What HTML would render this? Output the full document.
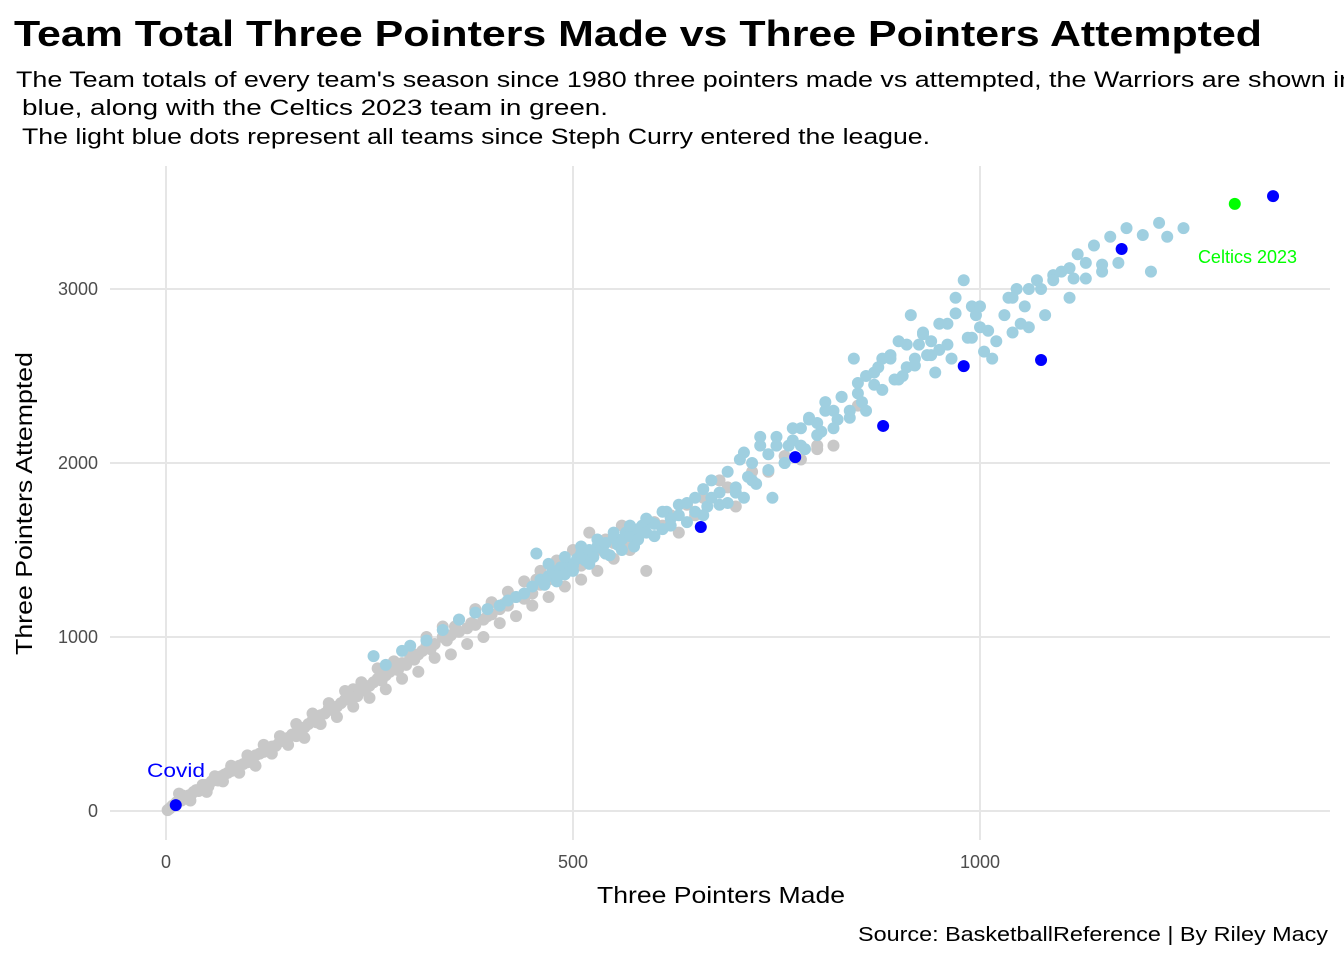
<!DOCTYPE html>
<html><head><meta charset="utf-8"><style>
body{margin:0;background:#fff;width:1344px;height:960px;overflow:hidden;font-family:"Liberation Sans",Arial,sans-serif}
svg{position:absolute;left:0;top:0}
</style></head><body>
<svg id="c" width="1344" height="960">
<text x="14" y="46" font-size="36" font-weight="bold" fill="#000" textLength="1248" lengthAdjust="spacingAndGlyphs">Team Total Three Pointers Made vs Three Pointers Attempted</text>
<g font-size="22" fill="#000">
<text x="16" y="87" textLength="1338" lengthAdjust="spacingAndGlyphs">The Team totals of every team's season since 1980 three pointers made vs attempted, the Warriors are shown in</text>
<text x="22" y="115" textLength="586" lengthAdjust="spacingAndGlyphs">blue, along with the Celtics 2023 team in green.</text>
<text x="22" y="144" textLength="908" lengthAdjust="spacingAndGlyphs">The light blue dots represent all teams since Steph Curry entered the league.</text>
</g>
<g id="grid"></g><g id="pts"></g><g id="ticks"></g>
<text x="597" y="903" font-size="23" textLength="248" lengthAdjust="spacingAndGlyphs">Three Pointers Made</text>
<text transform="translate(32,655) rotate(-90)" font-size="23" textLength="303" lengthAdjust="spacingAndGlyphs">Three Pointers Attempted</text>
<text x="858" y="941" font-size="20" textLength="470" lengthAdjust="spacingAndGlyphs">Source: BasketballReference | By Riley Macy</text>
<text x="1297" y="263" font-size="18" fill="#00ff00" text-anchor="end">Celtics 2023</text>
<text x="147" y="777" font-size="19" fill="#0000ff" textLength="58" lengthAdjust="spacingAndGlyphs">Covid</text>
</svg>
<script>
const xTicks=[0,500,1000];
const yTicks=[0,1000,2000,3000];
const grayX=[2,4,6,8,10,13,16,19,22,25,28,31,34,37,40,44,48,52,56,60,64,68,72,76,80,85,90,95,100,105,110,115,120,125,130,135,140,145,150,155,160,165,170,175,180,185,190,195,200,205,210,215,220,225,230,235,240,245,250,255,260,265,270,275,280,285,290,295,300,305,310,315,320,325,330,340,345,350,355,360,370,375,380,390,395,400,410,415,420,430,440,450,455,460,470,480,490,500,510,520,530,540,550,560,570,580,600,620,640,660,690,720,760,800,850,
20,30,45,50,60,70,80,90,100,110,120,130,140,150,160,170,180,190,200,210,220,230,240,250,260,270,280,290,300,310,320,330,340,350,360,370,380,390,400,410,420,430,440,450,460,470,480,490,500,510,520,530,540,550,560,570,590,610,630,650,680,700,740,780,800,820];
const grayY=[5,12,20,30,35,50,100,60,75,80,90,95,110,120,115,130,150,140,170,180,175,200,210,220,230,245,260,270,280,290,320,330,340,350,370,375,400,410,420,440,430,470,480,500,520,510,550,560,590,580,600,620,640,650,700,660,690,700,720,740,760,750,780,800,820,810,850,840,880,870,900,920,950,930,960,1000,980,1010,1060,1030,1050,1080,1070,1100,1120,1130,1160,1190,1180,1230,1220,1250,1330,1300,1330,1350,1380,1390,1410,1460,1500,1480,1540,1530,1560,1600,1660,1700,1760,1800,1860,1950,2040,2100,2330,
90,60,150,110,200,170,260,220,320,260,380,330,430,380,500,420,560,500,620,540,690,600,740,650,820,700,860,760,920,800,1000,880,1060,900,1100,960,1160,1000,1200,1080,1260,1120,1320,1180,1380,1230,1440,1290,1500,1330,1600,1380,1560,1450,1640,1500,1380,1640,1600,1700,1900,1750,1950,2020,2080,2100];
const blueX=[255,270,290,300,320,340,360,380,395,410,420,430,440,450,455,460,465,470,475,480,485,490,495,500,505,510,515,520,525,530,535,540,545,550,555,560,565,570,575,580,585,590,595,600,610,615,620,630,640,650,660,665,670,680,690,700,705,710,715,720,725,730,740,745,750,760,765,770,780,785,790,800,805,810,820,825,830,840,845,850,855,860,870,875,880,890,895,900,905,910,915,920,925,930,935,940,945,950,960,965,970,980,985,990,995,1000,1005,1015,1020,1030,1035,1040,1045,1050,1055,1060,1070,1075,1080,1090,1100,1110,1115,1120,1130,1140,1150,1160,1170,1180,1200,1210,1220,1230,1250,
470,480,490,500,510,520,530,540,550,560,570,580,590,600,610,620,630,640,650,660,670,680,690,700,710,720,730,740,750,760,770,780,790,800,810,820,830,840,850,860,870,880,890,900,910,920,930,940,950,960,970,990,1000,1010,1040,1060,1090,1110,1130,1150];
const blueY=[890,840,920,950,980,1040,1100,1140,1160,1180,1210,1230,1250,1290,1480,1330,1300,1350,1380,1320,1400,1360,1420,1410,1450,1480,1440,1500,1460,1520,1510,1540,1470,1570,1530,1560,1600,1580,1520,1620,1640,1600,1660,1650,1620,1720,1680,1700,1770,1720,1850,1750,1800,1830,1770,1860,2020,1800,1920,2000,1880,2100,2050,1800,2150,2000,2100,2130,2200,2080,2250,2230,2180,2350,2300,2250,2380,2300,2600,2400,2350,2500,2450,2550,2600,2620,2480,2700,2500,2550,2850,2600,2680,2750,2620,2700,2520,2650,2800,2600,2950,3050,2720,2900,2850,2780,2640,2600,2700,2850,2950,2750,3000,2800,2900,2780,3050,3000,2850,3080,3100,2950,3060,3200,3150,3250,3100,3300,3150,3350,3310,3100,3380,3300,3350,
1420,1350,1460,1380,1520,1420,1560,1480,1600,1500,1640,1560,1680,1580,1720,1640,1760,1660,1800,1700,1900,1760,1950,1830,2060,1900,2150,1960,2100,2000,2200,2100,2260,2160,2300,2200,2380,2260,2460,2300,2520,2420,2600,2480,2680,2560,2740,2620,2800,2680,2860,2720,2900,2760,2950,3000,3050,3120,3060,3140];
const warX=[12,657,773,881,980,1075,1174,1360];
const warY=[34,1632,2034,2213,2557,2592,3230,3534];
const celX=[1313];
const celY=[3489];
const X=v=>166+v*0.814, Y=v=>811-v*0.174;
const NS="http://www.w3.org/2000/svg";
const grid=document.getElementById('grid'),pts=document.getElementById('pts'),tk=document.getElementById('ticks');
xTicks.forEach(t=>{const l=document.createElementNS(NS,'line');


l.setAttribute('x1',X(t));l.setAttribute('x2',X(t));l.setAttribute('y1',166);l.setAttribute('y2',840);l.setAttribute('stroke','#e6e6e6');l.setAttribute('stroke-width','2');grid.appendChild(l);
const s=document.createElementNS(NS,'text');


s.setAttribute('x',X(t));s.setAttribute('y',868);s.setAttribute('font-size','18');s.setAttribute('fill','#4d4d4d');s.setAttribute('text-anchor','middle');s.textContent=t;tk.appendChild(s);});
yTicks.forEach(t=>{const l=document.createElementNS(NS,'line');


l.setAttribute('x1',110);l.setAttribute('x2',1330);l.setAttribute('y1',Y(t));l.setAttribute('y2',Y(t));l.setAttribute('stroke','#e6e6e6');l.setAttribute('stroke-width','2');grid.appendChild(l);
const s=document.createElementNS(NS,'text');


s.setAttribute('x',98);s.setAttribute('y',Y(t)+6);s.setAttribute('font-size','18');s.setAttribute('fill','#4d4d4d');s.setAttribute('text-anchor','end');s.textContent=t;tk.appendChild(s);});
function draw(xs,ys,col,name){xs.forEach((x,i)=>{const c=document.createElementNS(NS,'circle');


c.setAttribute('cx',X(x));c.setAttribute('cy',Y(ys[i]));c.setAttribute('r',6);c.setAttribute('fill',col);pts.appendChild(c);});}
draw(grayX,grayY,'#c8c8c8','point-pre-curry');
draw(blueX,blueY,'#9fcfe0','point-curry-era');
draw(warX,warY,'#0000ff','point-warriors');
draw(celX,celY,'#00ff00','point-celtics-2023');
</script>
</body></html>
